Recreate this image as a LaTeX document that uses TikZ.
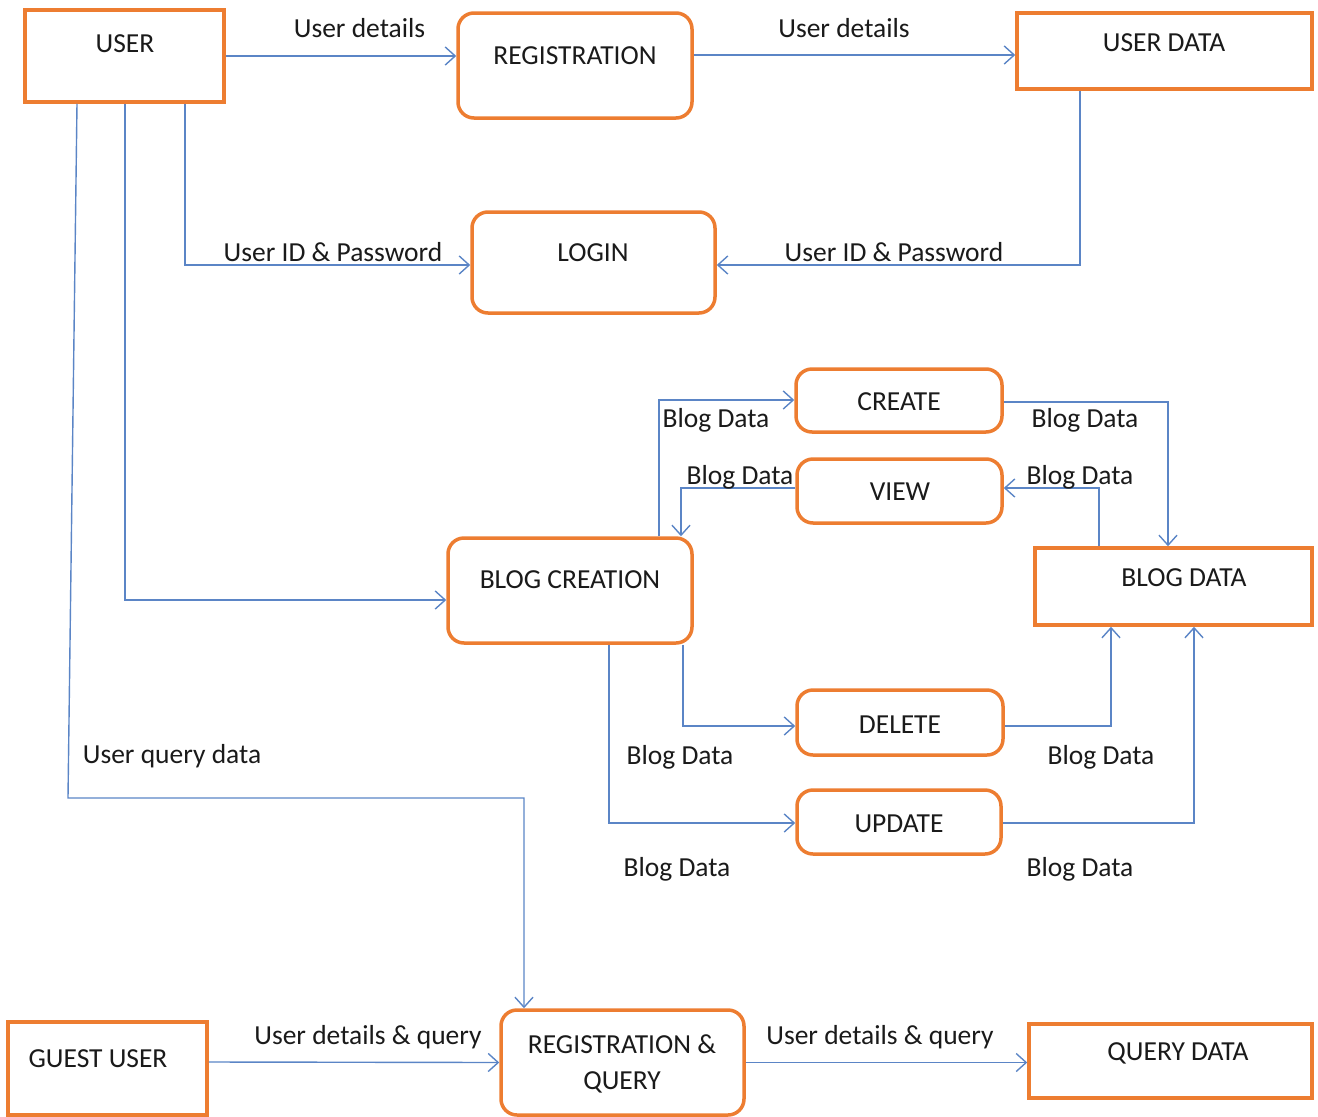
\documentclass[tikz,border=0pt]{standalone}
\usepackage{fontspec}
\setmainfont{Carlito}
\usetikzlibrary{arrows.meta}
\definecolor{boxorange}{HTML}{ED7D31}
\definecolor{flowblue}{HTML}{5B85C6}
\definecolor{txtcol}{HTML}{1A1A1A}
\begin{document}
\begin{tikzpicture}[x=1pt,y=-1pt,
  databox/.style={draw=boxorange, line width=3.5pt, inner sep=0pt, fill=white},
  procbox/.style={databox, rounded corners=16pt},
  flow/.style={draw=flowblue, line width=1.4pt, -{Straight Barb[length=10pt,width=18pt,line width=1.4pt]}},
  txtnode/.style={font=\fontsize{27.5}{36}\selectfont, text=txtcol, inner sep=0pt},
]
\useasboundingbox (0,0) rectangle (1318,1117);
% boxes
\node[databox, minimum width=199pt, minimum height=92pt] (user) at (124.5,56) {};
\node[procbox, minimum width=234pt, minimum height=105pt] (reg) at (575,65.5) {};
\node[databox, minimum width=295pt, minimum height=76pt] (udata) at (1164.5,51) {};
\node[procbox, minimum width=243pt, minimum height=101pt] (login) at (593.5,262.5) {};
\node[procbox, minimum width=206pt, minimum height=63pt] (create) at (899,400.5) {};
\node[procbox, minimum width=205pt, minimum height=64pt] (view) at (899.5,491) {};
\node[procbox, minimum width=244pt, minimum height=105pt] (bc) at (570,590.5) {};
\node[databox, minimum width=277pt, minimum height=77pt] (bdata) at (1173.5,586.5) {};
\node[procbox, minimum width=206pt, minimum height=65pt] (delete) at (900,722.5) {};
\node[procbox, minimum width=204pt, minimum height=64pt] (update) at (899,822) {};
\node[databox, minimum width=199pt, minimum height=93pt] (guest) at (107.5,1068.5) {};
\node[procbox, minimum width=243pt, minimum height=105pt] (rq) at (622.5,1062.5) {};
\node[databox, minimum width=283pt, minimum height=74pt] (qdata) at (1170.5,1061) {};
% box titles
\node[txtnode] (user-t) at (125,44) {USER};
\node[txtnode] (reg-t) at (575,56) {REGISTRATION};
\node[txtnode] (udata-t) at (1164,42.5) {USER DATA};
\node[txtnode] (login-t) at (593,252.5) {LOGIN};
\node[txtnode] (create-t) at (899,402) {CREATE};
\node[txtnode] (view-t) at (900,492) {VIEW};
\node[txtnode] (bc-t) at (570,580) {BLOG CREATION};
\node[txtnode] (bdata-t) at (1184,578) {BLOG DATA};
\node[txtnode] (delete-t) at (900,725) {DELETE};
\node[txtnode] (update-t) at (899,824) {UPDATE};
\node[txtnode] (guest-t) at (98,1059) {GUEST USER};
\node[txtnode, align=center] (rq-t) at (622,1064) {REGISTRATION \&\\QUERY};
\node[txtnode] (qdata-t) at (1178,1053) {QUERY DATA};
% connectors
\coordinate (q1) at (68,798);
\draw[flow] (user.east) -- (user.east -| reg.west);
\draw[flow] ([yshift=10.5pt]reg.east) -- ([yshift=-4pt]udata.west);
\draw[flow] ([xshift=60.5pt]user.south) |- ([yshift=-2.5pt]login.west);
\draw[flow] ([xshift=-84.5pt]udata.south) |- ([yshift=-2.5pt]login.east);
\draw[flow] ([xshift=0.5pt]user.south) |- ([yshift=-9.5pt]bc.west);
\draw[flow] ([xshift=-47.5pt]user.south) -- (q1) -| ([xshift=-98.5pt]rq.north);
\draw[flow] ([xshift=89pt]bc.north) |- ([yshift=0.5pt]create.west);
\draw[flow] ([yshift=3pt]view.west) -| ([xshift=111pt]bc.north);
\draw[flow] ([yshift=-1.5pt]create.east) -| ([xshift=-5.5pt]bdata.north);
\draw[flow] ([xshift=-74.5pt]bdata.north) |- ([yshift=3pt]view.east);
\draw[flow] ([xshift=113pt]bc.south) |- ([yshift=-3.5pt]delete.west);
\draw[flow] ([xshift=39pt]bc.south) |- ([yshift=-1pt]update.west);
\draw[flow] ([yshift=-3.5pt]delete.east) -| ([xshift=-62.5pt]bdata.south);
\draw[flow] ([yshift=-1pt]update.east) -| ([xshift=20.5pt]bdata.south);
\draw[flow] ([yshift=6.5pt]guest.east) -- (rq.west);
\draw[flow] (rq.east) -- (rq.east -| qdata.west);
% connector labels
\node[txtnode] (l1) at (359.5,28.5) {User details};
\node[txtnode] (l2) at (844,28.5) {User details};
\node[txtnode] (l3) at (333,252.5) {User ID \& Password};
\node[txtnode] (l4) at (894,252.5) {User ID \& Password};
\node[txtnode] (l5) at (716,420) {Blog Data};
\node[txtnode] (l6) at (740,477) {Blog Data};
\node[txtnode] (l7) at (1085,420) {Blog Data};
\node[txtnode] (l8) at (1080,477) {Blog Data};
\node[txtnode] (l9) at (680,757) {Blog Data};
\node[txtnode] (l10) at (1101,757) {Blog Data};
\node[txtnode] (l11) at (677,869) {Blog Data};
\node[txtnode] (l12) at (1080,869) {Blog Data};
\node[txtnode] (l13) at (172,756) {User query data};
\node[txtnode] (l14) at (368,1037) {User details \& query};
\node[txtnode] (l15) at (880,1037) {User details \& query};
\end{tikzpicture}
\end{document}
